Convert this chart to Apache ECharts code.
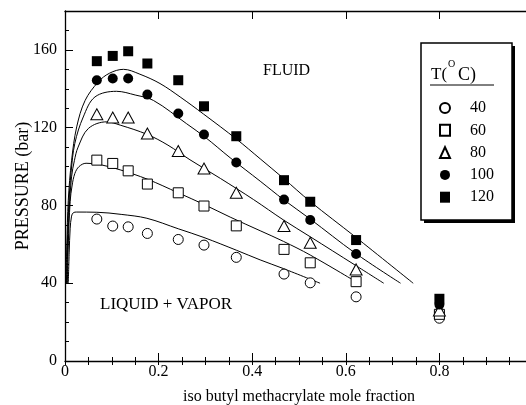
<!DOCTYPE html>
<html>
<head>
<meta charset="utf-8">
<script src="https://cdn.jsdelivr.net/npm/echarts@6/dist/echarts.min.js"></script>
<style>
  html, body { margin: 0; padding: 0; background: #fff; }
  #chart { width: 526px; height: 405px; }
</style>
</head>
<body>
<div id="chart"></div>
<script>
const SERIF = '"Liberation Serif", "Times New Roman", serif';

// Temperatures (°C) of the measured isotherms
const temperatures = ['40', '60', '80', '100', '120'];

// Measured bubble/dew points: mole fraction of iso butyl methacrylate
const moleFraction = [0.068, 0.102, 0.135, 0.176, 0.242, 0.297, 0.366, 0.468, 0.524, 0.622, 0.800];

// Measured pressures (bar) at each mole fraction
const pressure40  = [73.0, 69.4, 69.0, 65.6, 62.5, 59.6, 53.3, 44.7, 40.2, 33.0, 22.0];
const pressure60  = [103.3, 101.6, 97.8, 91.0, 86.5, 79.7, 69.5, 57.4, 50.5, 40.8, 24.0];
const pressure80  = [126.9, 125.2, 125.2, 117.0, 108.0, 99.0, 86.5, 69.4, 60.8, 47.1, 26.0];
const pressure100 = [144.4, 145.3, 145.3, 137.0, 127.3, 116.5, 102.1, 83.0, 72.5, 55.0, 29.0];
const pressure120 = [154.2, 156.9, 159.3, 153.0, 144.4, 131.0, 115.6, 93.0, 81.9, 62.2, 32.0];

// Calculated phase envelopes [mole fraction, pressure]
const curve40 = [[0.007, 40], [0.009, 56], [0.011, 68], [0.014, 74.5], [0.018, 76.3], [0.025, 76.6],
  [0.068, 76.5], [0.12, 75.4], [0.175, 73.4], [0.242, 68], [0.297, 63.5], [0.366, 57],
  [0.417, 52], [0.467, 47.5], [0.545, 40]];
const curve60 = [[0.005, 40], [0.007, 60], [0.011, 82], [0.015, 90], [0.021, 96.4], [0.030, 100],
  [0.045, 101.7], [0.075, 101], [0.118, 98.3], [0.176, 93.5], [0.242, 86.5], [0.297, 80.5],
  [0.353, 74], [0.417, 67], [0.467, 61.5], [0.524, 54.5], [0.627, 40]];
const curve80 = [[0.004, 40], [0.006, 60], [0.009, 78], [0.014, 94.7], [0.020, 103], [0.028, 110],
  [0.050, 119.6], [0.089, 123], [0.118, 121.3], [0.176, 116.5], [0.22, 111], [0.267, 103.5],
  [0.332, 93.9], [0.403, 83], [0.467, 72.5], [0.524, 63.9], [0.62, 49.3], [0.681, 40]];
const curve100 = [[0.003, 40], [0.005, 60], [0.008, 80], [0.013, 97], [0.021, 111.9], [0.039, 125.5],
  [0.064, 135.8], [0.11, 138.7], [0.15, 136.8], [0.189, 134], [0.26, 122], [0.30, 115],
  [0.353, 104.5], [0.417, 92.5], [0.467, 83], [0.524, 73], [0.62, 55.5], [0.717, 40]];
const curve120 = [[0.002, 40], [0.004, 60], [0.007, 82.7], [0.014, 103], [0.025, 120.4], [0.043, 134],
  [0.071, 143.5], [0.095, 148], [0.125, 150], [0.16, 147.5], [0.203, 142.7], [0.246, 135.8],
  [0.296, 127], [0.367, 114], [0.417, 104], [0.467, 93.9], [0.524, 82], [0.62, 63.9], [0.744, 40]];

const pressures = [pressure40, pressure60, pressure80, pressure100, pressure120];
const curves = [curve40, curve60, curve80, curve100, curve120];

// Marker style per isotherm: open circle, open square, open triangle, filled circle, filled square
const markers = [
  { symbol: 'circle',   size: 10,       fill: '#fff' },
  { symbol: 'rect',     size: 10,       fill: '#fff' },
  { symbol: 'triangle', size: [12, 11], fill: '#fff' },
  { symbol: 'circle',   size: 10,       fill: '#000' },
  { symbol: 'rect',     size: 10,       fill: '#000' }
];

const chart = echarts.init(document.getElementById('chart'), null, { renderer: 'canvas' });

const labelFont = { fontFamily: SERIF, fontSize: 16, color: '#000' };

function majorX(position, withLabels) {
  return {
    type: 'value', position, min: 0, max: 1, interval: 0.2,
    axisLine: { show: true, onZero: false, lineStyle: { color: '#000', width: 1.3 } },
    axisTick: { show: true, inside: true, length: 8, lineStyle: { color: '#000', width: 1 } },
    axisLabel: withLabels ? Object.assign({
      margin: 3,
      formatter: v => (v >= 0.99 ? '' : (v === 0 ? '0' : v.toFixed(1)))
    }, labelFont) : { show: false },
    splitLine: { show: false }
  };
}
function minorX(position) {
  return {
    type: 'value', position, min: 0, max: 1, interval: 0.05,
    axisLine: { show: false },
    axisTick: { show: true, inside: true, length: 4, lineStyle: { color: '#000', width: 1 } },
    axisLabel: { show: false },
    splitLine: { show: false }
  };
}

const xBottom = majorX('bottom', true);
xBottom.name = 'iso butyl methacrylate mole fraction';
xBottom.nameLocation = 'middle';
xBottom.nameGap = 28;
xBottom.nameMoveOverlap = false;
xBottom.nameTextStyle = { fontFamily: SERIF, fontSize: 16, color: '#000' };

const series = [];
curves.forEach((c, i) => {
  series.push({
    name: 'envelope ' + temperatures[i],
    type: 'line',
    data: c,
    showSymbol: false,
    symbol: 'none',
    smooth: 0.35,
    lineStyle: { color: '#000', width: 1 },
    silent: true,
    z: 2
  });
});
pressures.forEach((p, i) => {
  const m = markers[i];
  series.push({
    name: temperatures[i],
    type: 'scatter',
    data: moleFraction.map((x, k) => [x, p[k]]),
    symbol: m.symbol,
    symbolSize: m.size,
    itemStyle: { color: m.fill, borderColor: '#000', borderWidth: m.fill === '#fff' ? 1 : 0, opacity: 1 },
    z: 3
  });
});

chart.setOption({
  animation: false,
  backgroundColor: '#fff',
  grid: { left: 65, top: 11, width: 468, height: 350, containLabel: false, outerBoundsMode: 'none' },
  xAxis: [xBottom, minorX('bottom'), majorX('top', false), minorX('top')],
  yAxis: [
    {
      type: 'value', position: 'left', min: 0, max: 180, interval: 40,
      axisLine: { show: true, onZero: false, lineStyle: { color: '#000', width: 1.3 } },
      axisTick: { show: true, inside: true, length: 8, lineStyle: { color: '#000', width: 1 } },
      axisLabel: Object.assign({ margin: 8, formatter: v => (v > 170 ? '' : String(v)) }, labelFont),
      splitLine: { show: false },
      name: 'PRESSURE (bar)',
      nameLocation: 'middle',
      nameGap: 33,
      nameMoveOverlap: false,
      nameTextStyle: { fontFamily: SERIF, fontSize: 18, color: '#000' }
    },
    {
      type: 'value', position: 'left', min: 0, max: 180, interval: 10,
      axisLine: { show: false },
      axisTick: { show: true, inside: true, length: 4, lineStyle: { color: '#000', width: 1 } },
      axisLabel: { show: false },
      splitLine: { show: false }
    }
  ],
  legend: {
    data: temperatures,
    orient: 'vertical',
    left: 439,
    top: 100,
    padding: 0,
    itemWidth: 10,
    itemHeight: 11,
    itemGap: 6.3,
    selectedMode: false,
    textStyle: { fontFamily: SERIF, fontSize: 16, color: '#000', padding: [0, 0, 0, 15] },
    z: 10
  },
  graphic: [
    // legend frame with drop shadow
    { type: 'rect', z: 5, shape: { x: 424, y: 46, width: 91, height: 177 }, style: { fill: '#000' } },
    { type: 'rect', z: 6, shape: { x: 421, y: 43, width: 91, height: 177 },
      style: { fill: '#fff', stroke: '#000', lineWidth: 1.5 } },
    // legend heading T(°C) with underline
    { type: 'text', z: 7, x: 431, y: 75, style: { text: 'T(', font: '17px ' + SERIF, fill: '#000', verticalAlign: 'middle' } },
    { type: 'text', z: 7, x: 448, y: 64, style: { text: 'O', font: '10px ' + SERIF, fill: '#000', verticalAlign: 'middle' } },
    { type: 'text', z: 7, x: 458, y: 75, style: { text: 'C)', font: '18px ' + SERIF, fill: '#000', verticalAlign: 'middle' } },
    { type: 'line', z: 7, shape: { x1: 430, y1: 85, x2: 494, y2: 85 }, style: { stroke: '#000', lineWidth: 1 } },
    // region annotations
    { type: 'text', z: 7, x: 263, y: 71, style: { text: 'FLUID', font: '16px ' + SERIF, fill: '#000', verticalAlign: 'middle' } },
    { type: 'text', z: 7, x: 100, y: 305, style: { text: 'LIQUID + VAPOR', font: '17px ' + SERIF, fill: '#000', verticalAlign: 'middle' } }
  ],
  series
});
</script>
</body>
</html>
